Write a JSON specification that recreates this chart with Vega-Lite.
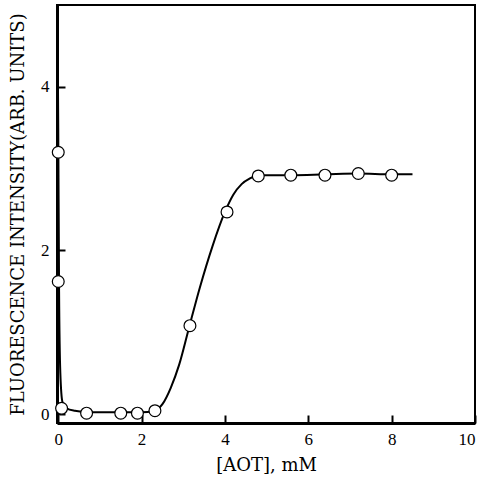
{
  "$schema": "https://vega.github.io/schema/vega-lite/v6.json",
  "width": 418,
  "height": 418,
  "autosize": {"type": "none"},
  "padding": {"left": 57, "top": 5, "right": 15, "bottom": 60},
  "background": "white",
  "config": {
    "view": {"stroke": "black", "strokeWidth": 2},
    "axis": {
      "grid": false,
      "domainColor": "black",
      "domainWidth": 3,
      "tickWidth": 2,
      "labelFont": "Liberation Serif",
      "labelFontSize": 17,
      "labelColor": "black",
      "titleFont": "DejaVu Serif",
      "titleFontSize": 18,
      "titleFontWeight": "normal",
      "titleColor": "black"
    }
  },
  "datasets": {
    "points": [
      {"aot": 0.0, "fl": 3.2},
      {"aot": 0.0, "fl": 1.62},
      {"aot": 0.08, "fl": 0.07},
      {"aot": 0.68, "fl": 0.01},
      {"aot": 1.5, "fl": 0.01},
      {"aot": 1.9, "fl": 0.01},
      {"aot": 2.32, "fl": 0.04},
      {"aot": 3.16, "fl": 1.08},
      {"aot": 4.05, "fl": 2.47},
      {"aot": 4.8, "fl": 2.91},
      {"aot": 5.58, "fl": 2.92},
      {"aot": 6.4, "fl": 2.92},
      {"aot": 7.2, "fl": 2.94},
      {"aot": 8.0, "fl": 2.92}
    ],
    "curve": [
      {"aot": -0.02, "fl": 5.0},
      {"aot": 0.0, "fl": 3.5},
      {"aot": 0.02, "fl": 1.5},
      {"aot": 0.05, "fl": 0.5},
      {"aot": 0.1, "fl": 0.15},
      {"aot": 0.2, "fl": 0.07},
      {"aot": 0.4, "fl": 0.04},
      {"aot": 0.8, "fl": 0.02},
      {"aot": 1.5, "fl": 0.02},
      {"aot": 2.0, "fl": 0.02},
      {"aot": 2.3, "fl": 0.04},
      {"aot": 2.5, "fl": 0.12},
      {"aot": 2.7, "fl": 0.32},
      {"aot": 2.9, "fl": 0.6},
      {"aot": 3.15, "fl": 1.08},
      {"aot": 3.4, "fl": 1.55},
      {"aot": 3.7, "fl": 2.05},
      {"aot": 4.0, "fl": 2.47},
      {"aot": 4.2, "fl": 2.68},
      {"aot": 4.4, "fl": 2.81},
      {"aot": 4.6, "fl": 2.88},
      {"aot": 4.8, "fl": 2.92},
      {"aot": 5.6, "fl": 2.92},
      {"aot": 6.4, "fl": 2.93},
      {"aot": 7.2, "fl": 2.94},
      {"aot": 8.0, "fl": 2.93},
      {"aot": 8.5, "fl": 2.93}
    ]
  },
  "layer": [
    {
      "data": {"name": "curve"},
      "mark": {"type": "line", "color": "black", "strokeWidth": 2, "interpolate": "monotone", "clip": true},
      "encoding": {
        "x": {
          "field": "aot", "type": "quantitative",
          "scale": {"domain": [-0.03, 10], "nice": false, "zero": false},
          "axis": {"orient": "bottom", "values": [0, 2, 4, 6, 8, 10], "format": "d", "title": "[AOT], mM", "ticks": true, "tickSize": -8, "tickColor": "black", "labelPadding": 16, "titlePadding": 9}
        },
        "y": {
          "field": "fl", "type": "quantitative",
          "scale": {"domain": [-0.11, 5], "nice": false, "zero": false},
          "axis": {"orient": "left", "values": [0, 2, 4], "format": "d", "title": "FLUORESCENCE INTENSITY(ARB. UNITS)", "ticks": true, "tickSize": -8, "tickColor": "black", "labelPadding": 16, "titlePadding": 13}
        }
      }
    },
    {
      "data": {"name": "points"},
      "mark": {"type": "point", "shape": "circle", "filled": true, "fill": "white", "stroke": "black", "strokeWidth": 1.2, "size": 140, "opacity": 1},
      "encoding": {
        "x": {"field": "aot", "type": "quantitative"},
        "y": {"field": "fl", "type": "quantitative"}
      }
    }
  ]
}
